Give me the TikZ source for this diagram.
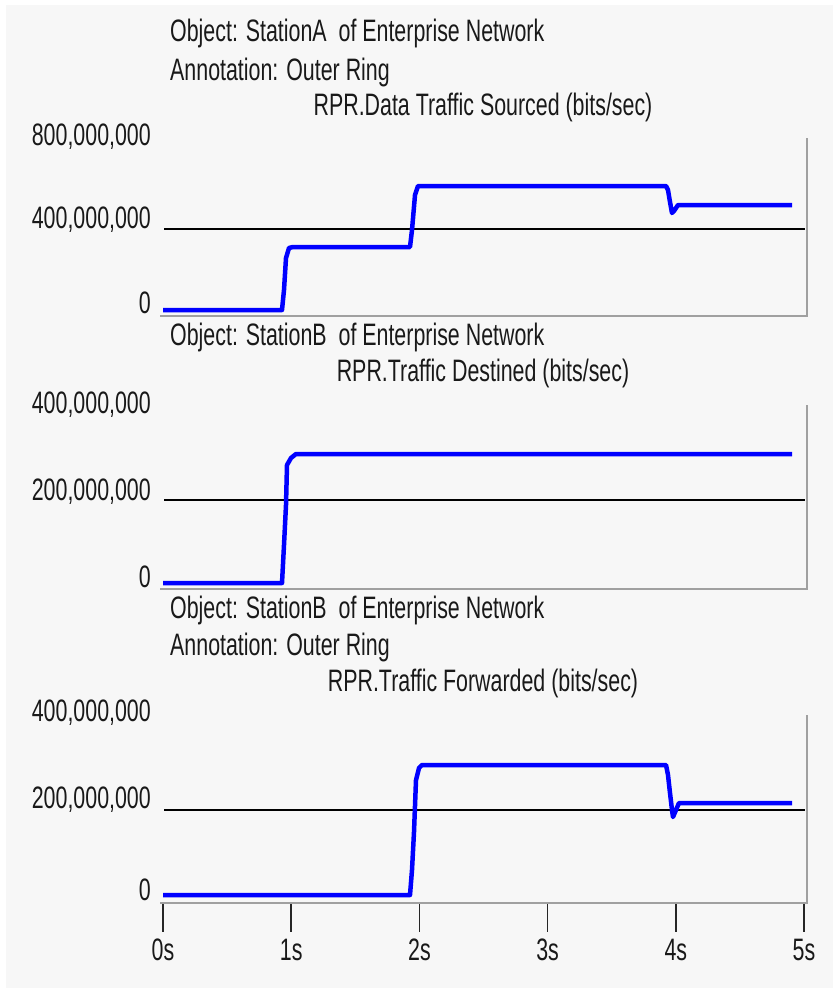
\documentclass[tikz,border=0pt]{standalone}
\usepackage{fontspec}
\setmainfont{Liberation Sans}[FakeStretch=0.69]
\definecolor{panelgray}{HTML}{F7F7F7}
\definecolor{axisgray}{HTML}{A0A0A0}

\begin{document}
\begin{tikzpicture}[x=1pt,y=-1pt,
  txt/.style={inner sep=0pt,font=\fontsize{31}{36}\selectfont,text=black!90},
  title/.style={txt,anchor=west},
  ylab/.style={txt,anchor=east},
  gridline/.style={black,line width=2pt},
  axisline/.style={axisgray,line width=2pt},
  curve/.style={blue,line width=4.5pt,line join=round}]
  \useasboundingbox (0,0) rectangle (835,990);
  \fill[white] (0,0) rectangle (835,990);
  \fill[panelgray] (6,5) rectangle (833,988);

  % first panel
  \node[title] (objA) at (170,33) {Object: StationA\ \ of Enterprise Network};
  \node[title] (annA) at (170,72) {Annotation: Outer Ring};
  \node[txt] (srcA) at (483,107) {RPR.Data Traffic Sourced (bits/sec)};
  \node[ylab] (yA2) at (151,137) {800,000,000};
  \node[ylab] (yA1) at (151,220) {400,000,000};
  \node[ylab] (yA0) at (151,303) {0};
  \draw[gridline] (164,229) -- (805,229);
  \draw[axisline] (807,138) -- (807,316) -- (160,316);
  \draw[curve] (163,310) -- (282,310) -- (284,290) -- (286,258) -- (289,248)
    -- (293,247) -- (410,247) -- (412,230) -- (415,195) -- (418,186)
    -- (666,186) -- (668,190) -- (670,202) -- (672,213) -- (674,211)
    -- (678,205) -- (792,205);

  % second panel
  \node[title] (objB) at (170,337) {Object: StationB\ \ of Enterprise Network};
  \node[txt] (dstB) at (483,373) {RPR.Traffic Destined (bits/sec)};
  \node[ylab] (yB2) at (151,405) {400,000,000};
  \node[ylab] (yB1) at (151,492) {200,000,000};
  \node[ylab] (yB0) at (151,577) {0};
  \draw[gridline] (164,500) -- (805,500);
  \draw[axisline] (807,405) -- (807,589) -- (160,589);
  \draw[curve] (163,583) -- (282,583) -- (284,545) -- (286,505) -- (287,465)
    -- (291,458) -- (296,454) -- (792,454);

  % third panel
  \node[title] (objC) at (170,610) {Object: StationB\ \ of Enterprise Network};
  \node[title] (annC) at (170,647) {Annotation: Outer Ring};
  \node[txt] (fwdC) at (483,683) {RPR.Traffic Forwarded (bits/sec)};
  \node[ylab] (yC2) at (151,713) {400,000,000};
  \node[ylab] (yC1) at (151,800) {200,000,000};
  \node[ylab] (yC0) at (151,890) {0};
  \draw[gridline] (164,810) -- (805,810);
  \draw[axisline] (807,715) -- (807,903) -- (160,903);
  \draw[curve] (163,895) -- (410,895) -- (412,870) -- (414,832) -- (416,780)
    -- (419,768) -- (422,765) -- (666,765) -- (668,775) -- (670,793)
    -- (672,810) -- (673,817) -- (676,810) -- (679,803) -- (792,803);

  % time axis
  \foreach \t in {0,...,5} {
    \draw[black!85,line width=1.5pt] (163+128.2*\t,904) -- (163+128.2*\t,932);
    \node[txt] (tick\t) at (163+128.2*\t,950) {\t s};
  }
\end{tikzpicture}
\end{document}
